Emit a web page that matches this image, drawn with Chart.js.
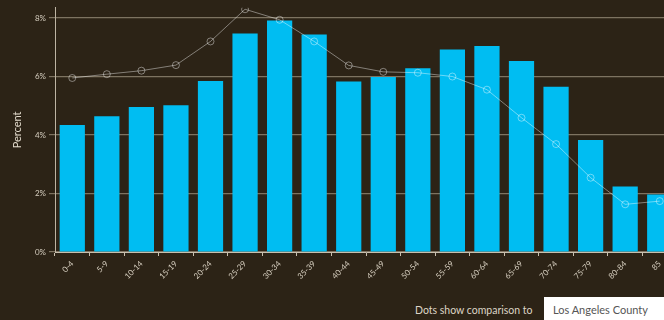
<!DOCTYPE html>
<html>
<head>
<meta charset="utf-8">
<script src="https://cdn.jsdelivr.net/npm/chart.js@4"></script>
<style>
    html, body { margin: 0; padding: 0; background: #2c2316; }
    #page { position: relative; width: 664px; height: 320px; overflow: hidden; }
    #wrap { position: absolute; left: 0; top: 0; width: 682px; height: 300px; }
    #note { position: absolute; left: 415px; top: 304px; font: 10.5px Lato, sans-serif; color: #ddd5c6; }
    #picker { position: absolute; left: 544px; top: 297px; width: 130px; height: 26px; background: #ffffff; z-index: 2;
              font: 11px Lato, sans-serif; color: #555; line-height: 26px; padding-left: 9px; box-sizing: border-box; }
</style>
</head>
<body>
<div id="page">
    <div id="wrap"><canvas id="ageChart"></canvas></div>
    <div id="note">Dots show comparison to</div>
    <div id="picker">Los Angeles County</div>
</div>
<script>
const ageGroups = ['0-4', '5-9', '10-14', '15-19', '20-24', '25-29', '30-34', '35-39', '40-44',
    '45-49', '50-54', '55-59', '60-64', '65-69', '70-74', '75-79', '80-84', '85'];
const areaPercent = [4.34, 4.64, 4.96, 5.02, 5.85, 7.47, 7.92, 7.44, 5.83,
    5.98, 6.28, 6.92, 7.04, 6.53, 5.65, 3.83, 2.24, 1.97];
const countyPercent = [5.95, 6.08, 6.2, 6.39, 7.2, 8.3, 7.94, 7.2, 6.38,
    6.16, 6.13, 6.0, 5.55, 4.59, 3.69, 2.54, 1.63, 1.74];
const yTicks = [0, 2, 4, 6, 8];

document.addEventListener('DOMContentLoaded', function() {
    const ctx = document.getElementById('ageChart').getContext('2d');
    const lineColor = 'rgba(255, 255, 255, 0.42)';

    new Chart(ctx, {
        type: 'bar',
        data: {
            labels: ageGroups,
            datasets: [{
                type: 'line',
                label: 'Los Angeles County',
                data: countyPercent,
                borderColor: lineColor,
                borderWidth: 1,
                pointRadius: 3.5,
                pointBorderWidth: 1,
                pointBackgroundColor: 'rgba(0, 0, 0, 0)',
                pointBorderColor: lineColor,
                tension: 0,
                order: 0
            }, {
                label: 'Area',
                data: areaPercent,
                backgroundColor: '#00bdf2',
                barPercentage: 0.73,
                categoryPercentage: 1,
                order: 1
            }]
        },
        options: {
            responsive: true,
            maintainAspectRatio: false,
            animation: false,
            layout: { padding: { top: 5, right: 0, left: 0, bottom: 0 } },
            plugins: {
                legend: { display: false },
                tooltip: { enabled: false }
            },
            scales: {
                x: {
                    grid: {
                        drawOnChartArea: false,
                        drawTicks: true,
                        tickLength: 4,
                        color: '#c8bfae'
                    },
                    border: { color: '#c8bfae', width: 1 },
                    ticks: {
                        color: '#d6cebf',
                        font: { family: 'Lato', size: 8 },
                        minRotation: 45,
                        maxRotation: 45,
                        padding: 3
                    },
                    afterFit: function(scale) { scale.height = 48; }
                },
                y: {
                    min: 0,
                    max: 8.35,
                    afterBuildTicks: function(scale) {
                        scale.ticks = yTicks.map(v => ({ value: v }));
                    },
                    grid: {
                        color: '#7d7361',
                        tickLength: 6,
                        lineWidth: 1.2
                    },
                    border: { color: '#bdb4a3', width: 1 },
                    ticks: {
                        color: '#d6cebf',
                        font: { family: 'Lato', size: 8 },
                        padding: 3,
                        callback: function(value) { return value + '%'; }
                    },
                    title: {
                        display: true,
                        text: 'Percent',
                        color: '#e2dacb',
                        font: { family: 'Lato', size: 11 },
                        padding: { top: 11, bottom: 4 }
                    },
                    afterFit: function(scale) { scale.width = 55; }
                }
            }
        }
    });
});
</script>
</body>
</html>
